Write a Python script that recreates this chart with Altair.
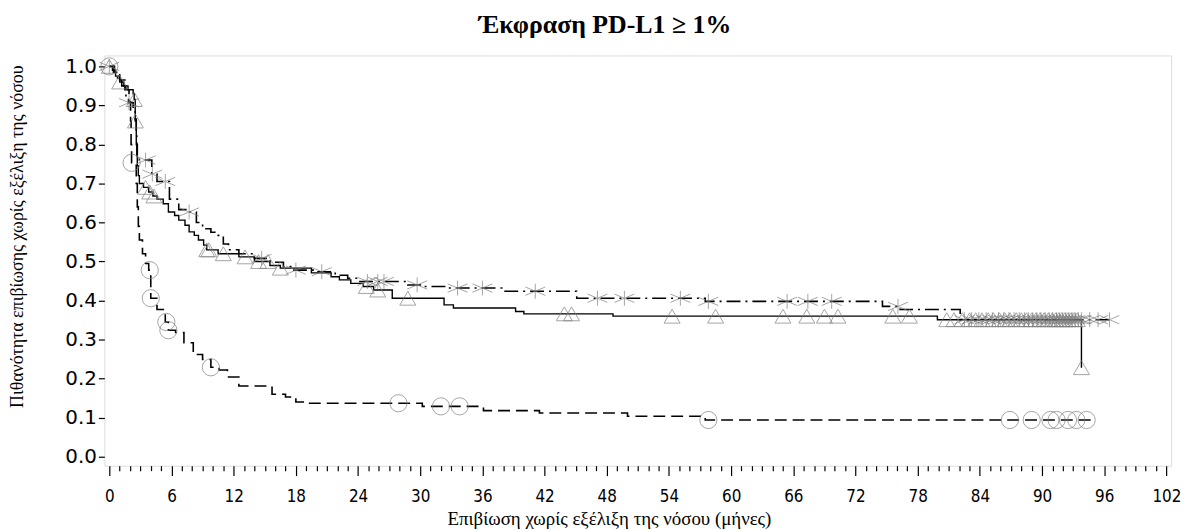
import altair as alt
import pandas as pd

# ---------------- data ----------------
# Group A: solid line, triangle censor marks
a_t = [0, 0.3, 0.6, 1.0, 1.4, 1.8, 2.3, 2.4, 2.5, 2.6, 2.65, 2.7, 2.8, 2.9, 3.3, 3.8, 4.2, 4.6,
       5.2, 5.7, 6.3, 6.7, 7.3, 7.7, 8.2, 8.6, 9.1, 9.4, 10.5, 12.5, 14.0, 15.5, 16.5, 19.5,
       21.4, 22.2, 23.3, 24.5, 25.5, 27.3, 32.3, 33.2, 39.2, 40.0, 48.6, 79.9, 93.8]
a_s = [1.0, 0.99, 0.975, 0.96, 0.95, 0.94, 0.93, 0.915, 0.86, 0.80, 0.77, 0.745, 0.72, 0.70, 0.69,
       0.678, 0.668, 0.66, 0.648, 0.627, 0.618, 0.606, 0.593, 0.576, 0.567, 0.555, 0.542, 0.53,
       0.52, 0.512, 0.50, 0.49, 0.483, 0.471, 0.461, 0.453, 0.444, 0.436, 0.427, 0.406, 0.389,
       0.381, 0.372, 0.366, 0.36, 0.351, 0.228]
a_cens = [0, 1.0, 2.42, 2.52, 3.5, 3.9, 4.3, 9.4, 9.6, 11.0, 13.1, 14.4, 15.3, 16.5, 24.8, 25.9,
          28.8, 43.9, 44.6, 54.3, 58.5, 65.0, 67.3, 69.0, 70.3, 75.6, 77.2, 80.8, 81.5, 82.3,
          83.0, 83.6, 84.2, 84.8, 85.3, 85.9, 86.4, 86.9, 87.5, 88.0, 88.5, 89.0, 89.4, 89.8,
          90.2, 90.6, 91.0, 91.3, 91.6, 91.9, 92.2, 92.5, 92.8, 93.1, 93.4, 93.8]

# Group B: dash-dot line, star censor marks
b_t = [0, 0.4, 0.8, 1.2, 1.6, 1.85, 2.3, 2.5, 2.6, 2.65, 2.7, 2.9, 4.1, 4.6, 5.8, 6.7, 7.5,
       8.4, 9.0, 9.8, 10.5, 11.0, 11.5, 12.5, 14.0, 15.5, 16.8, 17.8, 20.0, 21.8, 23.0, 24.0,
       28.8, 30.5, 32.5, 38.0, 45.1, 57.5, 74.6, 76.3, 82.1, 96.5]
b_s = [1.0, 0.985, 0.97, 0.95, 0.925, 0.907, 0.89, 0.865, 0.83, 0.80, 0.771, 0.76, 0.724, 0.705,
       0.66, 0.633, 0.627, 0.60, 0.584, 0.575, 0.567, 0.545, 0.53, 0.52, 0.508, 0.498, 0.487,
       0.478, 0.474, 0.465, 0.457, 0.449, 0.44, 0.436, 0.432, 0.424, 0.406, 0.398, 0.385,
       0.377, 0.351, 0.351]
b_cens = [0, 1.9, 3.5, 4.15, 5.4, 7.7, 14.7, 18.0, 20.5, 24.9, 25.9, 26.5, 29.7, 33.6, 36.0,
          41.1, 47.1, 49.7, 55.1, 57.8, 65.4, 67.4, 69.7, 76.1, 82.5, 83.2, 83.9, 84.6, 85.2,
          85.8, 86.3, 86.8, 87.3, 87.8, 88.3, 88.7, 89.1, 89.5, 89.9, 90.3, 90.7, 91.0, 91.4,
          91.7, 92.0, 92.3, 92.6, 92.9, 93.2, 93.5, 93.8, 94.6, 95.4, 96.5]

# Group C: dashed line, circle censor marks
c_t = [0, 0.5, 1.0, 1.5, 1.9, 2.05, 2.1, 2.15, 2.6, 2.7, 2.8, 2.9, 3.2, 3.5, 3.8, 4.0, 4.6,
       5.4, 5.7, 6.4, 7.2, 8.1, 9.0, 9.8, 10.6, 11.4, 12.5, 15.7, 17.0, 18.0, 19.0, 30.2,
       36.1, 41.5, 50.0, 57.5, 95.0]
c_s = [1.0, 0.985, 0.965, 0.94, 0.91, 0.86, 0.80, 0.753, 0.70, 0.64, 0.59, 0.555, 0.52, 0.495,
       0.478, 0.406, 0.377, 0.345, 0.324, 0.318, 0.292, 0.262, 0.249, 0.229, 0.222, 0.204,
       0.181, 0.160, 0.153, 0.140, 0.137, 0.129, 0.118, 0.112, 0.1035, 0.094, 0.094]
c_cens = [0, 2.15, 3.9, 4.0, 5.5, 5.7, 9.8, 27.9, 32.0, 33.8, 57.8, 86.9, 89.0, 90.8, 91.4,
          92.5, 93.3, 94.3]

x_tick_values = list(range(0, 103))
y_tick_values = [0.0, 0.1, 0.2, 0.3, 0.4, 0.5, 0.6, 0.7, 0.8, 0.9, 1.0]

title_text = "Έκφραση PD-L1 ≥ 1%"
x_title = "Επιβίωση χωρίς εξέλιξη της νόσου (μήνες)"
y_title = "Πιθανότητα επιβίωσης χωρίς εξέλιξη της νόσου"


def step_value(ts, ss, c):
    v = ss[0]
    for t, s in zip(ts, ss):
        if t <= c:
            v = s
        else:
            break
    return v


def curve_df(ts, ss):
    return pd.DataFrame({"t": ts, "s": ss})


def cens_df(ts, ss, cens):
    return pd.DataFrame({"t": cens, "s": [step_value(ts, ss, c) for c in cens]})


x_axis = alt.Axis(
    values=x_tick_values,
    labelExpr="datum.value % 6 === 0 ? datum.label : ''",
    tickSize={"condition": {"test": "datum.value % 6 === 0", "value": 10}, "value": 5},
    labelOverlap=False, labelFlush=False, format="d",
    labelFont="DejaVu Sans Condensed, DejaVu Sans", labelFontSize=17, labelColor="black",
    labelPadding=13,
    tickColor="black", tickWidth=1.2, domain=False, grid=False,
    title=x_title, titleFont="Liberation Serif", titleFontSize=19, titleFontWeight="normal",
    titleColor="black", titleX=508, titleY=53, titleAlign="center", titleBaseline="middle",
)
y_axis = alt.Axis(
    values=y_tick_values, format=".1f",
    labelFont="DejaVu Sans", labelFontSize=20, labelColor="black", labelPadding=2,
    tickSize=6, tickColor="black", tickWidth=1.2, domain=False, grid=False,
    title=y_title, titleFont="Liberation Serif", titleFontSize=18, titleFontWeight="normal",
    titleColor="black", titleX=-87, titleY=182, titleAngle=270, titleAlign="center",
    titleBaseline="middle",
)

x_enc = alt.X("t:Q", scale=alt.Scale(domain=[-0.48, 102.45], nice=False, zero=False), axis=x_axis)
y_enc = alt.Y("s:Q", scale=alt.Scale(domain=[-0.023, 1.028], nice=False, zero=False), axis=y_axis)

star_path = "M0,-0.75L0,0.75M-1,-0.42L1,0.42M-1,0.42L1,-0.42"
grey = "#7f7f7f"

line_a = alt.Chart(curve_df(a_t, a_s)).mark_line(
    interpolate="step-after", color="black", strokeWidth=1.4).encode(x=x_enc, y=y_enc)
line_b = alt.Chart(curve_df(b_t, b_s)).mark_line(
    interpolate="step-after", color="black", strokeWidth=1.6, strokeDash=[14, 5, 2, 5]).encode(x=x_enc, y=y_enc)
line_c = alt.Chart(curve_df(c_t, c_s)).mark_line(
    interpolate="step-after", color="black", strokeWidth=1.6, strokeDash=[12, 6]).encode(x=x_enc, y=y_enc)

pts_a = alt.Chart(cens_df(a_t, a_s, a_cens)).mark_point(
    shape="triangle-up", size=260, filled=False, color=grey, strokeWidth=1).encode(x=x_enc, y=y_enc)
pts_b = alt.Chart(cens_df(b_t, b_s, b_cens)).mark_point(
    shape=star_path, size=400, filled=False, color=grey, strokeWidth=1).encode(x=x_enc, y=y_enc)
pts_c = alt.Chart(cens_df(c_t, c_s, c_cens)).mark_point(
    shape="circle", size=300, filled=False, color=grey, strokeWidth=1).encode(x=x_enc, y=y_enc)

chart = alt.layer(line_c, line_b, line_a, pts_c, pts_b, pts_a).properties(
    width=1074, height=413,
    title=alt.TitleParams(title_text, font="Liberation Serif", fontSize=26, fontWeight="bold",
                          color="black", anchor="middle", dx=-33, dy=23, offset=20,
                          baseline="alphabetic", frame="group"),
    autosize=alt.AutoSizeParams(type="none"),
    padding={"left": 97, "top": 46, "right": 14, "bottom": 63},
).configure_view(stroke="#111111", strokeWidth=1.6).configure(background="white")

chart.save("out.html", embed_options={"renderer": "svg", "actions": False})
